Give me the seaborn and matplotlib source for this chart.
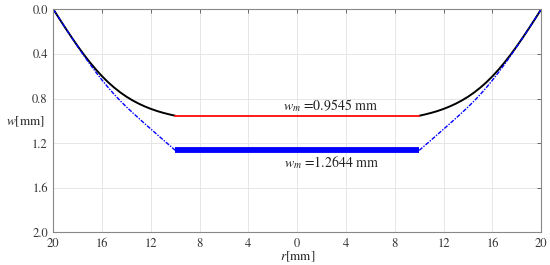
import matplotlib
matplotlib.use("Agg")
import matplotlib.pyplot as plt
import seaborn as sns
import pandas as pd

# ---- data ----
r_abs = [10, 10.5, 11, 11.5, 12, 12.5, 13, 13.5, 14, 14.5, 15, 15.5, 16,
         16.5, 17, 17.5, 18, 18.5, 19, 19.5, 20]
w_black = [0.9545, 0.942, 0.928, 0.912, 0.893, 0.871, 0.846, 0.817, 0.784,
           0.746, 0.703, 0.655, 0.601, 0.541, 0.476, 0.406, 0.331, 0.252,
           0.170, 0.086, 0.0]
w_blue = [1.2644, 1.217, 1.170, 1.122, 1.074, 1.026, 0.977, 0.927, 0.876,
          0.822, 0.764, 0.702, 0.636, 0.566, 0.492, 0.415, 0.335, 0.253,
          0.170, 0.085, 0.0]
flat_r = [-10, 10]
wm_black = 0.9545
wm_blue = 1.2644
x_ticks = [-20, -16, -12, -8, -4, 0, 4, 8, 12, 16, 20]
x_tick_labels = ["20", "16", "12", "8", "4", "0", "4", "8", "12", "16", "20"]
y_ticks = [0.0, 0.4, 0.8, 1.2, 1.6, 2.0]
y_tick_labels = ["0.0", "0.4", "0.8", "1.2", "1.6", "2.0"]
label_black = r"$w_m$ =0.9545 mm"
label_blue = r"$w_m$ =1.2644 mm"

sns.set_style("white")
plt.rcParams["font.family"] = ["STIXGeneral", "DejaVu Serif"]
plt.rcParams["mathtext.fontset"] = "stix"

fig = plt.figure(figsize=(5.5, 2.65), dpi=100)
ax = fig.add_axes([0.097, 0.123, 0.887, 0.842])

def side_frame(vals, sign):
    return pd.DataFrame({"r": [sign * v for v in r_abs], "w": vals})

left_black = side_frame(w_black, -1)
right_black = side_frame(w_black, 1)
left_blue = side_frame(w_blue, -1)
right_blue = side_frame(w_blue, 1)
flat_black = pd.DataFrame({"r": flat_r, "w": [wm_black, wm_black]})
flat_blue = pd.DataFrame({"r": flat_r, "w": [wm_blue, wm_blue]})

kw = dict(x="r", y="w", ax=ax, sort=False, estimator=None, legend=False)
sns.lineplot(data=left_black, color="black", lw=1.4, **kw)
sns.lineplot(data=right_black, color="black", lw=1.4, **kw)
sns.lineplot(data=flat_black, color="#ff1a1a", lw=1.4, **kw)
dash = (0, (3, 1, 1, 1))
sns.lineplot(data=left_blue, color="#0000ff", lw=1.0, linestyle=dash, **kw)
sns.lineplot(data=right_blue, color="#0000ff", lw=1.0, linestyle=dash, **kw)
sns.lineplot(data=flat_blue, color="#0000ff", lw=4.2, solid_capstyle="butt", **kw)

ax.set_xlim(-20, 20)
ax.set_ylim(2.0, 0.0)
ax.set_xticks(x_ticks)
ax.set_xticklabels(x_tick_labels)
ax.set_yticks(y_ticks)
ax.set_yticklabels(y_tick_labels)
ax.grid(True, color="#e6e6e6", lw=0.7)
ax.set_axisbelow(True)
ax.tick_params(direction="in", length=3, width=0.6, color="#555555",
               labelsize=9, labelcolor="#333333", top=True, right=True,
               pad=4)
for s in ax.spines.values():
    s.set_color("#888888")
    s.set_linewidth(0.8)

ax.set_xlabel(r"$r$[mm]", fontsize=9.5, color="#222222", va="center")
ax.xaxis.set_label_coords(0.5, -0.108)
ax.set_ylabel(r"$w$[mm]", fontsize=9.5, rotation=0, color="#222222",
              ha="center", va="center")
ax.yaxis.set_label_coords(-0.057, 0.495)

ax.text(2.7, 0.86, label_black, fontsize=10, ha="center", va="center", color="#222222")
ax.text(2.8, 1.37, label_blue, fontsize=10, ha="center", va="center", color="#222222")

fig.savefig("out.png", dpi=100)
